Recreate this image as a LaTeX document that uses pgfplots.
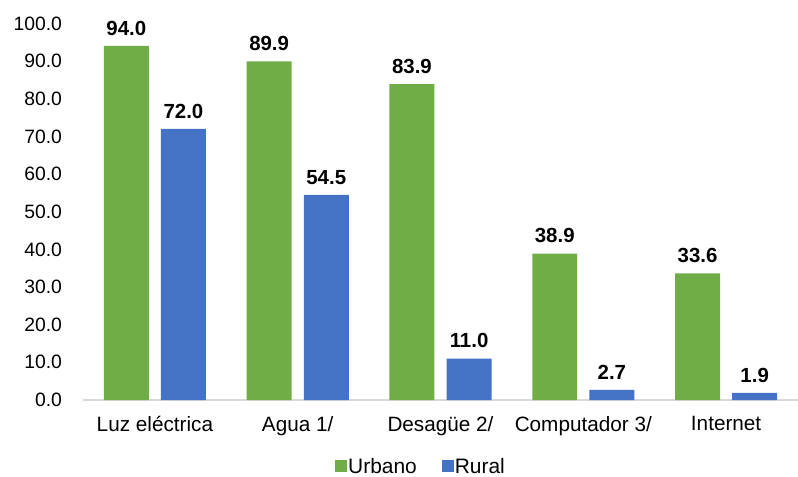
\documentclass[border=0pt]{standalone}
\usepackage{pgfplots}
\pgfplotsset{compat=1.18}
\usepackage{fontspec}
\setmainfont{Liberation Sans}
\definecolor{cgreen}{HTML}{70AD47}
\definecolor{cblue}{HTML}{4472C4}
\definecolor{caxis}{HTML}{D9D9D9}
\begin{document}
\begin{tikzpicture}
\begin{axis}[
  at={(0,0)}, anchor=south west,
  scale only axis,
  width=714bp, height=376.6bp,
  xmin=-0.5, xmax=4.5, ymin=0, ymax=100,
  ytick={0,10,...,100},
  yticklabel style={/pgf/number format/fixed,/pgf/number format/fixed zerofill,/pgf/number format/precision=1,font=\fontsize{19.4}{23}\selectfont, xshift=-18bp},
  /pgf/number format/assume math mode=true,
  xtick={0,1,2,3,4},
  xticklabels={Luz eléctrica, Agua 1/, Desagüe 2/, Computador 3/, Internet},
  xticklabel style={font=\fontsize{20.8}{24}\selectfont, yshift=-13bp},
  major tick length=0pt,
  axis x line*=bottom, axis y line*=left,
  x axis line style={draw=caxis, line width=1.2bp},
  y axis line style={draw=none},
  axis line style={-},
  ybar, bar width=0.315,
  nodes near coords,
  every node near coord/.append style={font=\bfseries\fontsize{20.5}{24}\selectfont, yshift=7bp, /pgf/number format/fixed,/pgf/number format/fixed zerofill,/pgf/number format/precision=1, /pgf/number format/assume math mode=true},
  legend style={at={(0.472,-0.176)}, anchor=center, draw=none, legend columns=2, font=\fontsize{21}{24}\selectfont, nodes={inner xsep=1bp, inner ysep=1bp}, /tikz/every even column/.append style={column sep=24bp}},
  legend image code/.code={\fill[#1] (0bp,-6bp) rectangle (12bp,6bp);},
]
\addplot[fill=cgreen, draw=none, bar shift=-0.2] coordinates {(0,94.0) (1,89.9) (2,83.9) (3,38.9) (4,33.6)};
\addplot[fill=cblue, draw=none, bar shift=0.2] coordinates {(0,72.0) (1,54.5) (2,11.0) (3,2.7) (4,1.9)};
\legend{Urbano, Rural}
\end{axis}
\pgfresetboundingbox
\path[use as bounding box] (-83.5bp,-77bp) rectangle (714.5bp,400bp);
\end{tikzpicture}
\end{document}
